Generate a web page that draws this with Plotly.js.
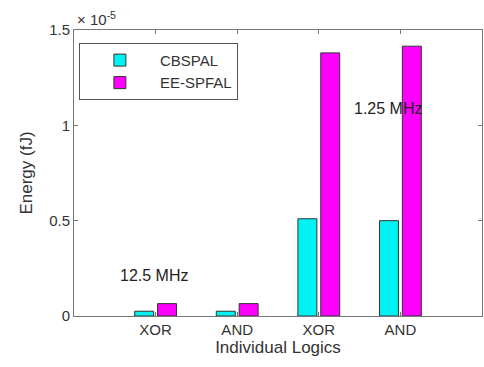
<!DOCTYPE html>
<html><head><meta charset="utf-8">
<script src="https://cdn.plot.ly/plotly-3.0.1.min.js"></script>
<style>html,body{margin:0;padding:0;background:#fff;overflow:hidden}#c{width:484px;height:367px}</style>
</head><body><div id="c"></div>
<script>
const categories = ["XOR", "AND", "XOR", "AND"];
const positions = [1, 2, 3, 4];
const cbspal = [0.025, 0.025, 0.51, 0.50];      // ×10^-5 fJ
const eeSpfal = [0.065, 0.065, 1.38, 1.415];    // ×10^-5 fJ
const yTicks = [0, 0.5, 1, 1.5];
const yTickText = ["0", "0.5", "1", "1.5"];

const fam = "Liberation Sans, Arial, sans-serif";
const font = {family: fam, size: 15, color: "#333"};
const traces = [
  {type: "bar", name: "CBSPAL", x: positions, y: cbspal,
   marker: {color: "#00F2F2", line: {color: "#333", width: 1}}},
  {type: "bar", name: "EE-SPFAL", x: positions, y: eeSpfal,
   marker: {color: "#FF00FF", line: {color: "#333", width: 1}}}
];
const layout = {
  width: 484, height: 367,
  margin: {l: 74, r: 2, t: 30, b: 51, autoexpand: false},
  paper_bgcolor: "#fff", plot_bgcolor: "#fff",
  font: font,
  barmode: "group", bargap: 0.44, bargroupgap: 0.17,
  showlegend: true,
  legend: {x: 0.012, y: 0.955, xanchor: "left", yanchor: "top",
           bordercolor: "#555", borderwidth: 1, bgcolor: "#fff",
           font: {family: fam, size: 15, color: "#333"},
           itemwidth: 70, tracegroupgap: 0},
  xaxis: {range: [0, 5], tickvals: positions, ticktext: categories,
          showline: true, linecolor: "#777", linewidth: 1, mirror: "ticks",
          ticks: "inside", ticklen: 4, tickcolor: "#777", showgrid: false, zeroline: false,
          tickfont: font, automargin: false,
          title: {text: "Individual Logics", font: {family: fam, size: 17, color: "#333"}, standoff: 2}},
  yaxis: {range: [0, 1.5], tickvals: yTicks, ticktext: yTickText,
          showline: true, linecolor: "#777", linewidth: 1, mirror: "ticks",
          ticks: "inside", ticklen: 4, tickcolor: "#777", showgrid: false, zeroline: false,
          tickfont: font, automargin: false,
          title: {text: "Energy (fJ)", font: {family: fam, size: 17, color: "#333"}, standoff: 12}},
  annotations: [
    {xref: "paper", yref: "paper", x: 0.002, y: 1.0, xanchor: "left", yanchor: "bottom",
     text: "× 10<sup>-5</sup>", showarrow: false, font: {family: fam, size: 15, color: "#333"}},
    {xref: "x", yref: "y", x: 0.98, y: 0.215, xanchor: "center", yanchor: "middle",
     text: "12.5 MHz", showarrow: false, font: {family: fam, size: 16, color: "#222"}},
    {xref: "x", yref: "y", x: 3.85, y: 1.09, xanchor: "center", yanchor: "middle",
     text: "1.25 MHz", showarrow: false, font: {family: fam, size: 16, color: "#222"}}
  ]
};
Plotly.newPlot("c", traces, layout, {displayModeBar: false, staticPlot: true});
</script></body></html>
